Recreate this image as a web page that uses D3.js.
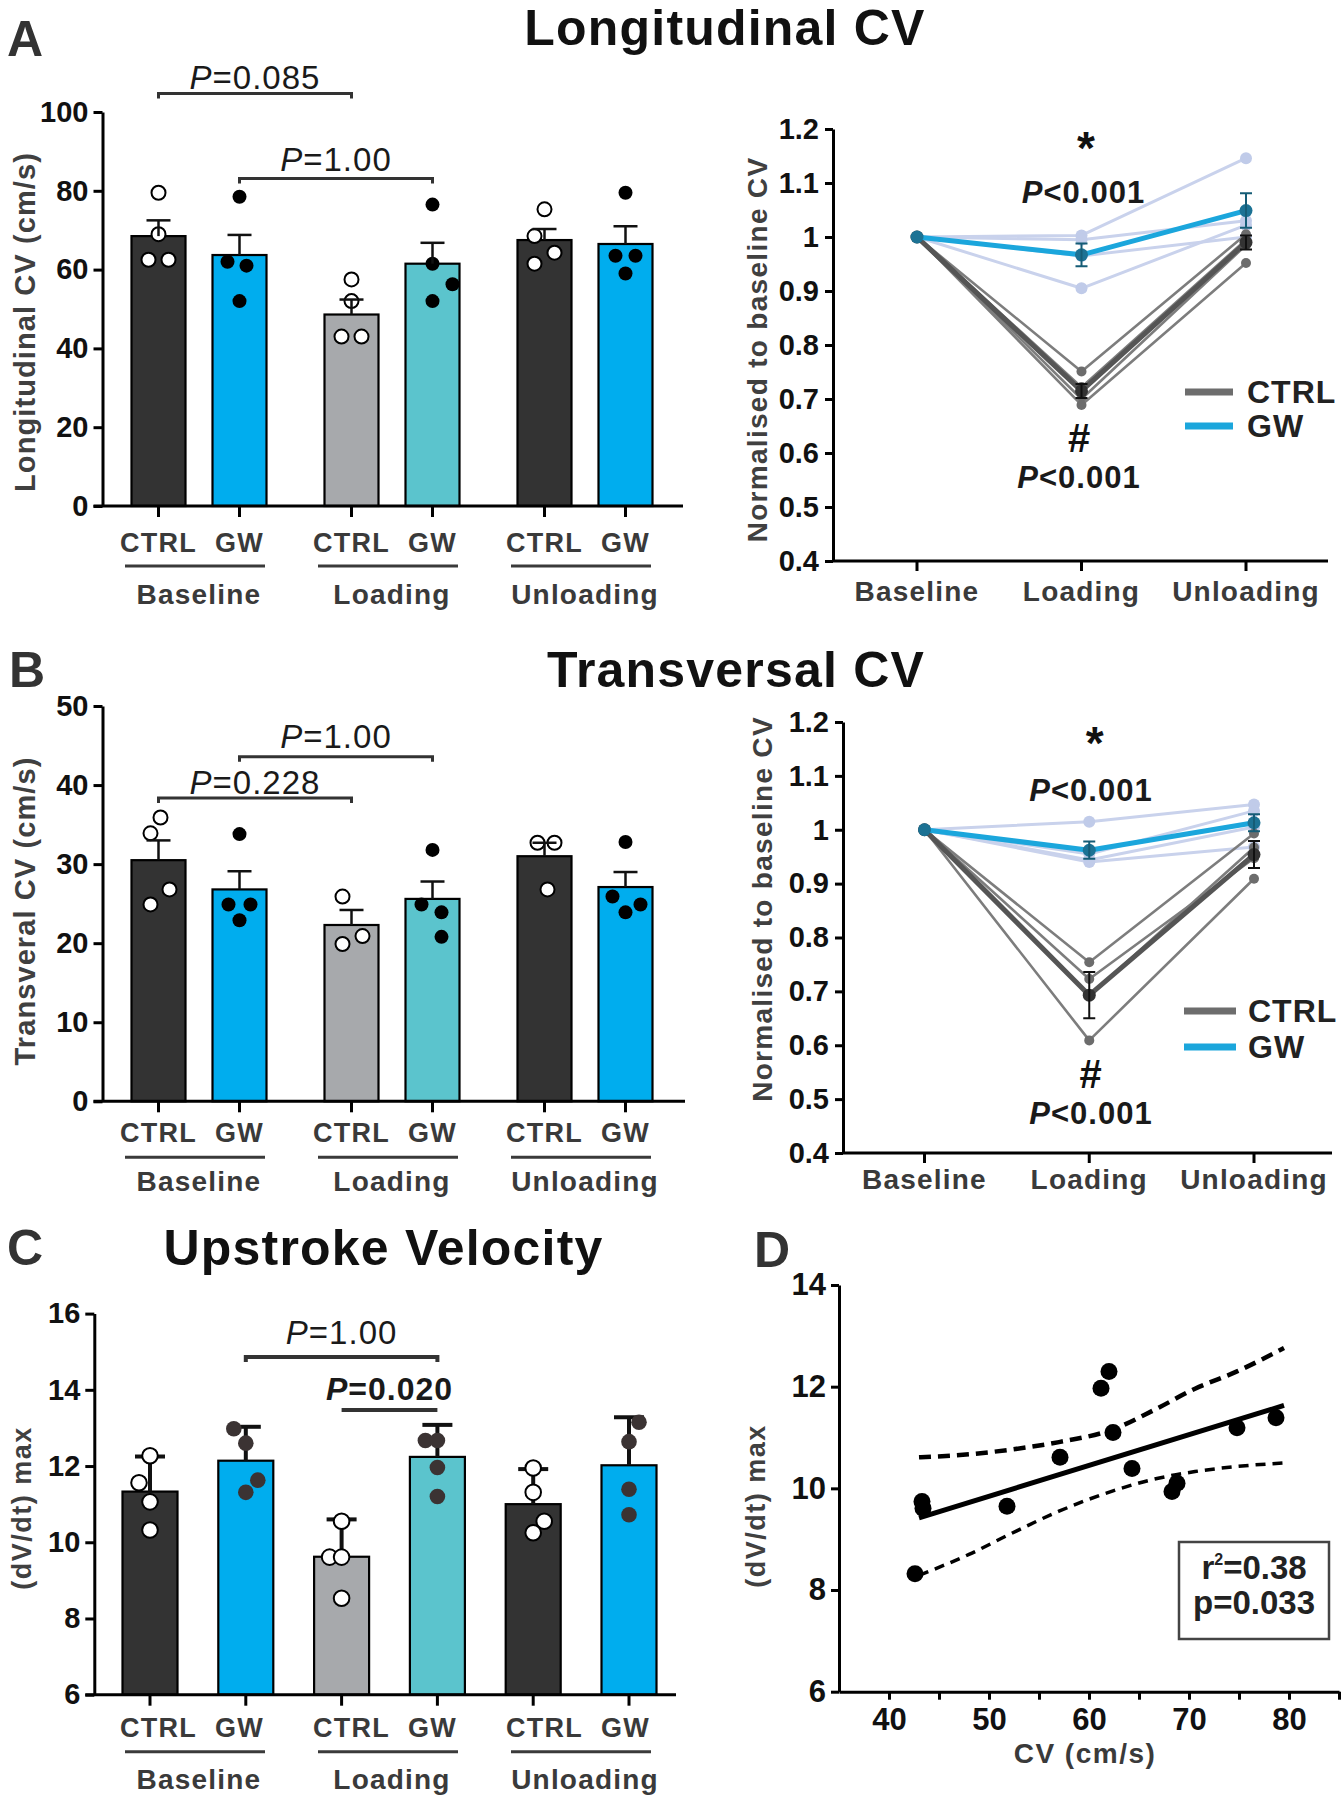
<!DOCTYPE html>
<html>
<head>
<meta charset="utf-8">
<script src="https://cdn.jsdelivr.net/npm/d3@7"></script>
<style>
  body { margin: 0; background: #fff; }
  svg { display: block; font-family: 'Liberation Sans', Arial, sans-serif; }
</style>
</head>
<body>
<div id="chart"></div>
<script>
  const W = 1343;
  const H = 1800;

  // ---------- data ----------
  const groups = ['Baseline', 'Loading', 'Unloading'];
  const treatments = ['CTRL', 'GW'];
  // bar order: Baseline CTRL, Baseline GW, Loading CTRL, Loading GW, Unloading CTRL, Unloading GW
  const lcvMean = [68.5, 63.7, 48.6, 61.5, 67.5, 66.5];
  const lcvErr = [4.0, 5.1, 3.8, 5.3, 2.8, 4.5];
  const lcvPoints = [[79.5, 69, 62.5, 62.5], [78.5, 62, 61, 52], [57.5, 52, 43, 43],
                     [76.5, 61.5, 56.3, 52], [75.3, 68.5, 64.3, 61.5], [79.5, 63.5, 63.5, 59]];

  const tcvMean = [30.5, 26.8, 22.3, 25.6, 31.0, 27.1];
  const tcvErr = [2.5, 2.3, 1.9, 2.2, 1.7, 1.9];
  const tcvPoints = [[35.9, 33.9, 26.8, 24.9], [33.8, 24.9, 24.9, 22.9], [25.9, 20.9, 19.9],
                     [31.8, 24.9, 23.9, 20.8], [32.7, 32.7, 26.8], [32.8, 25.9, 24.9, 23.9]];

  const upMean = [11.33, 12.14, 9.62, 12.24, 11.0, 12.02];
  const upErr = [0.92, 0.89, 0.98, 0.84, 0.92, 1.26];
  const upPoints = [[12.27, 11.56, 11.06, 10.32], [12.98, 12.6, 11.63, 11.31], [10.55, 9.61, 9.61, 8.53],
                    [12.67, 12.67, 11.96, 11.2], [11.95, 11.31, 10.55, 10.25], [13.15, 12.64, 11.39, 10.72]];

  // normalised to baseline (Baseline, Loading, Unloading)
  const lnCtrl = [[1, 0.751, 1.005], [1, 0.722, 0.995], [1, 0.70, 0.985], [1, 0.689, 0.952]];
  const lnGw = [[1, 1.003, 1.146], [1, 0.995, 1.03], [1, 0.965, 1.0], [1, 0.905, 1.022]];
  const lnCtrlMean = [1, 0.715, 0.99];
  const lnCtrlErr = [0, 0.013, 0.013];
  const lnGwMean = [1, 0.967, 1.049];
  const lnGwErr = [0, 0.021, 0.032];

  const tnCtrl = [[1, 0.754, 0.993], [1, 0.723, 0.947], [1, 0.692, 0.967], [1, 0.609, 0.909]];
  const tnGw = [[1, 1.015, 1.047], [1, 0.955, 1.035], [1, 0.944, 1.005], [1, 0.94, 0.968]];
  const tnCtrlMean = [1, 0.693, 0.954];
  const tnCtrlErr = [0, 0.043, 0.025];
  const tnGwMean = [1, 0.962, 1.013];
  const tnGwErr = [0, 0.016, 0.016];

  // correlation
  const cvX = [42.6, 43.4, 43.3, 51.8, 57.1, 61.2, 62.0, 62.4, 64.3, 68.3, 68.8, 74.8, 78.7];
  const dvY = [8.32, 9.61, 9.74, 9.65, 10.61, 11.97, 12.3, 11.1, 10.39, 9.94, 10.1, 11.19, 11.39];
  const fitX = [43, 79.5];
  const fitY = [9.42, 11.63];
  const bandX = [43, 48, 52.1, 57, 62.4, 66.5, 70.6, 74.8, 79.5];
  const bandUpper = [10.61, 10.67, 10.76, 10.91, 11.16, 11.54, 11.96, 12.30, 12.76];
  const bandLower = [8.29, 8.70, 9.10, 9.55, 9.95, 10.18, 10.33, 10.43, 10.50];

  // ---------- layout ----------
  const barFill = ['#333333', '#00adee', '#a7a9ac', '#5bc4cd', '#333333', '#00adee'];
  const openPoint = [true, false, true, false, true, false];
  // point scatter slots (x 10px)
  const jitA = [[0, 0, -1, 1], [0, -1.2, 0.7, 0], [0, 0, -1, 1], [0, 0, 2, 0], [0, -1, 1, -1], [0, -1, 1, 0]];
  const jitB = [[0.2, -0.8, 1.1, -0.8], [0, -1.1, 1.1, 0], [-0.9, 1.1, -0.9], [0, -1.1, 0.9, 0.9], [-0.7, 1, 0.3], [0, -1.3, 1.5, 0]];
  const jitC = [[0, -1.1, 0, 0], [-1.2, 0, 1.2, 0], [0, -1.2, 0, 0], [-1.2, 0, 0, 0], [0, 0, 1.1, 0], [1, 0, 0, 0]];

  const svg = d3.select('#chart').append('svg')
    .attr('width', W)
    .attr('height', H)
    .style('background', '#fff');

  const gx = d3.scaleBand().domain(groups).range([102.5, 681.5]);
  const tx = d3.scalePoint().domain(treatments).range([-40.5, 40.5]);
  const groupedX = i => gx(groups[Math.floor(i / 2)]) + gx.bandwidth() / 2 + tx(treatments[i % 2]);
  const evenX = d3.scalePoint().domain(d3.range(6)).range([150, 629]);

  function styleAxis(sel, size) {
    sel.attr('font-family', null).attr('font-size', null);
    sel.select('.domain').attr('stroke', '#000').attr('stroke-width', 3);
    sel.selectAll('.tick line').attr('stroke', '#000').attr('stroke-width', 3);
    sel.selectAll('.tick text')
      .attr('fill', '#111')
      .style('font-size', size + 'px')
      .style('font-weight', 'bold');
  }

  function grey(g, x, y, txt, size, ls, anchor) {
    return g.append('text')
      .attr('x', x).attr('y', y)
      .attr('text-anchor', anchor || 'middle')
      .attr('fill', '#3a3a3a')
      .style('font-size', size + 'px')
      .style('font-weight', 'bold')
      .style('letter-spacing', ls + 'px')
      .text(txt);
  }

  function yLabel(g, pos, txt, size, ls) {
    g.append('text')
      .attr('transform', 'translate(' + pos[0] + ',' + pos[1] + ') rotate(-90)')
      .attr('text-anchor', 'middle')
      .attr('dy', '0.35em')
      .attr('fill', '#404040')
      .style('font-size', size + 'px')
      .style('font-weight', 'bold')
      .style('letter-spacing', ls + 'px')
      .text(txt);
  }

  function pText(g, x, y, rest, size, bold) {
    const t = g.append('text')
      .attr('x', x).attr('y', y)
      .attr('text-anchor', 'middle')
      .attr('fill', '#1a1a1a')
      .style('font-size', size + 'px')
      .style('font-weight', bold ? 'bold' : 'normal')
      .style('letter-spacing', '1px');
    t.append('tspan').style('font-style', 'italic').text('P');
    t.append('tspan').text(rest);
  }

  function heading(letter, lx, ly, title, tx0, ty) {
    svg.append('text')
      .attr('x', lx).attr('y', ly)
      .attr('fill', '#333')
      .style('font-size', '50px')
      .style('font-weight', 'bold')
      .text(letter);
    if (title) {
      svg.append('text')
        .attr('x', tx0).attr('y', ty)
        .attr('text-anchor', 'middle')
        .attr('fill', '#111')
        .style('font-size', '50px')
        .style('font-weight', 'bold')
        .style('letter-spacing', '1.2px')
        .text(title);
    }
  }

  // ---------- bar panels ----------
  function barPanel(p) {
    const g = svg.append('g');
    const y = d3.scaleLinear().domain(p.domain).range([p.yBottom, p.yTop]);
    const bx = p.barX;

    const ya = g.append('g')
      .attr('transform', 'translate(' + p.axisX + ',0)')
      .call(d3.axisLeft(y).tickValues(p.ticks).tickSize(9).tickSizeOuter(0).tickPadding(5));
    styleAxis(ya, 29);

    g.selectAll('rect.bar')
      .data(p.mean)
      .join('rect')
        .attr('class', 'bar')
        .attr('x', (d, i) => bx(i) - p.barW / 2)
        .attr('y', d => y(d))
        .attr('width', p.barW)
        .attr('height', d => y(p.domain[0]) - y(d))
        .attr('fill', (d, i) => barFill[i])
        .attr('stroke', '#000')
        .attr('stroke-width', 2.2);

    const errs = g.append('g');
    const drawErr = () => {
      p.mean.forEach((m, i) => {
        const top = y(m + p.err[i]);
        errs.append('line')
          .attr('x1', bx(i)).attr('x2', bx(i))
          .attr('y1', y(m)).attr('y2', top)
          .attr('stroke', '#111').attr('stroke-width', p.errW);
        errs.append('line')
          .attr('x1', bx(i) - p.capHalf).attr('x2', bx(i) + p.capHalf)
          .attr('y1', top).attr('y2', top)
          .attr('stroke', '#111').attr('stroke-width', p.errW);
      });
    };
    const drawPts = () => {
      p.pts.forEach((vals, i) => {
        g.selectAll(null)
          .data(vals)
          .join('circle')
            .attr('cx', (v, k) => bx(i) + p.jit[i][k] * 10)
            .attr('cy', v => y(v))
            .attr('r', p.r)
            .attr('fill', openPoint[i] ? '#fff' : p.filled)
            .attr('stroke', openPoint[i] ? '#000' : 'none')
            .attr('stroke-width', 2);
      });
    };
    if (p.pointsOnTop) { drawErr(); drawPts(); } else { drawPts(); g.node().appendChild(errs.node()); drawErr(); }

    // x axis with ticks at bars
    g.append('line')
      .attr('x1', p.axisX - 9).attr('x2', p.xEnd)
      .attr('y1', p.yBottom).attr('y2', p.yBottom)
      .attr('stroke', '#000').attr('stroke-width', 3);
    g.selectAll('line.xt')
      .data(p.mean)
      .join('line')
        .attr('class', 'xt')
        .attr('x1', (d, i) => bx(i)).attr('x2', (d, i) => bx(i))
        .attr('y1', p.yBottom).attr('y2', p.yBottom + 11)
        .attr('stroke', '#000').attr('stroke-width', 3);

    // category labels
    p.mean.forEach((d, i) => grey(g, groupedX(i), p.yBottom + p.labelOffs[0], treatments[i % 2], 27, 1.2));
    groups.forEach(gr => {
      const c = gx(gr) + gx.bandwidth() / 2;
      g.append('line')
        .attr('x1', c - 74).attr('x2', c + 66)
        .attr('y1', p.yBottom + p.labelOffs[1]).attr('y2', p.yBottom + p.labelOffs[1])
        .attr('stroke', '#3a3a3a').attr('stroke-width', 3);
      grey(g, c, p.yBottom + p.labelOffs[2], gr, 28, 1.2);
    });

    yLabel(g, p.ylabelPos, p.ylabel, p.ylabelSize, p.ylabelLs);

    // comparison brackets
    p.brackets.forEach(b => {
      const x1 = bx(b.a), x2 = bx(b.b);
      const tick = b.noEnds ? 0 : 5;
      g.append('path')
        .attr('d', 'M' + x1 + ',' + (b.y + tick) + 'V' + b.y + 'H' + x2 + 'V' + (b.y + tick))
        .attr('fill', 'none')
        .attr('stroke', '#333')
        .attr('stroke-width', b.w || 3);
      pText(g, (x1 + x2) / 2, b.y + b.dy, b.text, b.bold ? 32 : 33, b.bold);
    });
  }

  // ---------- normalised line panels ----------
  function linePanel(p) {
    const g = svg.append('g');
    const x = d3.scalePoint().domain(groups).range(p.xRange);
    const y = d3.scaleLinear().domain([0.4, 1.2]).range([p.yBottom, p.yTop]);

    const ya = g.append('g')
      .attr('transform', 'translate(' + p.axisX + ',0)')
      .call(d3.axisLeft(y)
        .tickValues(d3.range(4, 13).map(v => v / 10))
        .tickFormat(d => d === 1 ? '1' : d3.format('.1f')(d))
        .tickSize(8).tickSizeOuter(0).tickPadding(6));
    styleAxis(ya, 29);

    g.append('line')
      .attr('x1', p.axisX).attr('x2', p.xEnd)
      .attr('y1', p.yBottom).attr('y2', p.yBottom)
      .attr('stroke', '#000').attr('stroke-width', 3);
    groups.forEach(s => {
      g.append('line')
        .attr('x1', x(s)).attr('x2', x(s))
        .attr('y1', p.yBottom).attr('y2', p.yBottom + 10)
        .attr('stroke', '#000').attr('stroke-width', 3);
      grey(g, x(s), p.yBottom + p.labelDy, s, 28, 1.2);
    });

    yLabel(g, p.ylabelPos, 'Normalised to baseline CV', 28, 1.3);

    const line = d3.line().x((d, i) => x(groups[i])).y(d => y(d));

    const series = (rows, color, width, dotColor, r) => {
      rows.forEach(row => {
        g.append('path').attr('d', line(row))
          .attr('fill', 'none').attr('stroke', color).attr('stroke-width', width)
          .attr('stroke-linejoin', 'round').attr('stroke-linecap', 'round');
        g.selectAll(null).data(row).join('circle')
          .attr('cx', (d, i) => x(groups[i])).attr('cy', d => y(d))
          .attr('r', r).attr('fill', dotColor);
      });
    };
    series(p.gw, '#c9d2ec', 3, '#c0cbe9', 6);
    series(p.ctrl, '#7d7d7d', 2.6, '#6c6c6c', 5);
    series([p.ctrlMean], '#555', 5, '#333', 6.5);
    series([p.gwMean], '#1ba6dc', 5, '#1c7294', 6.5);

    const errBars = (mean, err, color) => {
      mean.forEach((m, i) => {
        if (!err[i]) return;
        const cx = x(groups[i]);
        g.append('path')
          .attr('d', 'M' + (cx - 6) + ',' + y(m + err[i]) + 'H' + (cx + 6) +
                'M' + cx + ',' + y(m + err[i]) + 'V' + y(m - err[i]) +
                'M' + (cx - 6) + ',' + y(m - err[i]) + 'H' + (cx + 6))
          .attr('fill', 'none').attr('stroke', color).attr('stroke-width', 2);
      });
    };
    errBars(p.ctrlMean, p.ctrlErr, '#111');
    errBars(p.gwMean, p.gwErr, '#155c76');

    // annotations
    g.append('text').attr('x', p.star[0]).attr('y', p.star[1])
      .attr('text-anchor', 'middle').attr('fill', '#111')
      .style('font-size', '46px').style('font-weight', 'bold').text('*');
    pText(g, p.p1[0], p.p1[1], '<0.001', 31, true);
    g.append('text').attr('x', p.hash[0]).attr('y', p.hash[1])
      .attr('text-anchor', 'middle').attr('fill', '#111')
      .style('font-size', '40px').style('font-weight', 'bold').text('#');
    pText(g, p.p2[0], p.p2[1], '<0.001', 31, true);

    // legend
    [['CTRL', '#6d6d6d'], ['GW', '#1ba6dc']].forEach((l, i) => {
      g.append('line')
        .attr('x1', p.leg.x1).attr('x2', p.leg.x2)
        .attr('y1', p.leg.y[i] - 11).attr('y2', p.leg.y[i] - 11)
        .attr('stroke', l[1]).attr('stroke-width', 7);
      g.append('text').attr('x', p.leg.tx).attr('y', p.leg.y[i])
        .attr('fill', '#222')
        .style('font-size', '32px').style('font-weight', 'bold').style('letter-spacing', '1px')
        .text(l[0]);
    });
  }

  // ---------- A ----------
  heading('A', 7, 56, 'Longitudinal CV', 725, 45);
  barPanel({
    mean: lcvMean, err: lcvErr, pts: lcvPoints, jit: jitA,
    domain: [0, 100], ticks: d3.range(0, 101, 20), yBottom: 506, yTop: 112,
    axisX: 102.5, xEnd: 683, barX: groupedX, barW: 54,
    ylabel: 'Longitudinal CV (cm/s)', ylabelPos: [25, 322], ylabelSize: 29, ylabelLs: 1.1,
    labelOffs: [46, 60, 98], pointsOnTop: false, errW: 2.5, capHalf: 12, r: 7, filled: '#000',
    brackets: [
      { a: 0, b: 2, y: 93.5, text: '=0.085', dy: -5 },
      { a: 1, b: 3, y: 178.5, text: '=1.00', dy: -8 }
    ]
  });
  linePanel({
    ctrl: lnCtrl, gw: lnGw, ctrlMean: lnCtrlMean, ctrlErr: lnCtrlErr, gwMean: lnGwMean, gwErr: lnGwErr,
    axisX: 833, yTop: 129, yBottom: 561, xRange: [917, 1246], xEnd: 1328, labelDy: 40,
    ylabelPos: [757, 349.5],
    star: [1086, 164], p1: [1083.5, 203], hash: [1079, 452], p2: [1079, 488],
    leg: { x1: 1185, x2: 1233, tx: 1247, y: [403, 437] }
  });

  // ---------- B ----------
  heading('B', 9, 687, 'Transversal CV', 736, 687);
  barPanel({
    mean: tcvMean, err: tcvErr, pts: tcvPoints, jit: jitB,
    domain: [0, 50], ticks: d3.range(0, 51, 10), yBottom: 1101.3, yTop: 706,
    axisX: 102.5, xEnd: 685, barX: groupedX, barW: 54,
    ylabel: 'Transveral CV (cm/s)', ylabelPos: [25, 911], ylabelSize: 29, ylabelLs: 1.1,
    labelOffs: [41, 56, 90], pointsOnTop: false, errW: 2.5, capHalf: 12, r: 7, filled: '#000',
    brackets: [
      { a: 1, b: 3, y: 756.7, text: '=1.00', dy: -9 },
      { a: 0, b: 2, y: 798, text: '=0.228', dy: -4 }
    ]
  });
  linePanel({
    ctrl: tnCtrl, gw: tnGw, ctrlMean: tnCtrlMean, ctrlErr: tnCtrlErr, gwMean: tnGwMean, gwErr: tnGwErr,
    axisX: 843, yTop: 722, yBottom: 1153, xRange: [924.5, 1254], xEnd: 1332, labelDy: 36,
    ylabelPos: [762, 909],
    star: [1094.7, 759], p1: [1091, 801], hash: [1090.6, 1088], p2: [1091, 1124],
    leg: { x1: 1184, x2: 1236, tx: 1248, y: [1022, 1058] }
  });

  // ---------- C ----------
  heading('C', 7, 1265, 'Upstroke Velocity', 383.5, 1265);
  barPanel({
    mean: upMean, err: upErr, pts: upPoints, jit: jitC,
    domain: [6, 16], ticks: d3.range(6, 17, 2), yBottom: 1694.7, yTop: 1313.6,
    axisX: 94.3, xEnd: 676, barX: i => evenX(i), barW: 55,
    ylabel: '(dV/dt) max', ylabelPos: [21.5, 1508], ylabelSize: 27, ylabelLs: 1.5,
    labelOffs: [42, 57, 94], pointsOnTop: true, errW: 4, capHalf: 15, r: 7.8, filled: '#3b3333',
    brackets: [
      { a: 1, b: 3, y: 1357, text: '=1.00', dy: -13, w: 4 },
      { a: 2, b: 3, y: 1410, text: '=0.020', dy: -10, w: 4, bold: true, noEnds: true }
    ]
  });

  // ---------- D ----------
  heading('D', 754, 1267);
  const dg = svg.append('g');
  const dx = d3.scaleLinear().domain([35, 85]).range([839, 1339]);
  const dy = d3.scaleLinear().domain([6, 14]).range([1691.7, 1285]);

  const dxa = dg.append('g')
    .attr('transform', 'translate(0,' + dy(6) + ')')
    .call(d3.axisBottom(dx).tickValues(d3.range(40, 90, 5))
      .tickFormat(d => d % 10 ? '' : d).tickSize(8).tickSizeOuter(0).tickPadding(8));
  styleAxis(dxa, 31);
  const dya = dg.append('g')
    .attr('transform', 'translate(' + dx(35) + ',0)')
    .call(d3.axisLeft(dy).tickValues(d3.range(6, 15, 2)).tickSize(8).tickSizeOuter(0).tickPadding(5));
  styleAxis(dya, 31);

  const bandLine = d3.line().x(d => dx(d[0])).y(d => dy(d[1])).curve(d3.curveMonotoneX);
  dg.append('path')
    .attr('d', bandLine(bandX.map((v, i) => [v, bandUpper[i]])))
    .attr('fill', 'none').attr('stroke', '#000').attr('stroke-width', 4.5).attr('stroke-dasharray', '12,7');
  dg.append('path')
    .attr('d', bandLine(bandX.map((v, i) => [v, bandLower[i]])))
    .attr('fill', 'none').attr('stroke', '#000').attr('stroke-width', 3.5).attr('stroke-dasharray', '10,7');
  dg.append('path')
    .attr('d', bandLine(fitX.map((v, i) => [v, fitY[i]])))
    .attr('fill', 'none').attr('stroke', '#000').attr('stroke-width', 5);

  dg.selectAll('circle')
    .data(cvX)
    .join('circle')
      .attr('cx', d => dx(d))
      .attr('cy', (d, i) => dy(dvY[i]))
      .attr('r', 8.5)
      .attr('fill', '#000');

  yLabel(dg, [755.5, 1506], '(dV/dt) max', 27, 1.5);
  grey(dg, 1085, 1763, 'CV (cm/s)', 28, 1.5);

  dg.append('rect')
    .attr('x', 1179).attr('y', 1542).attr('width', 150).attr('height', 97)
    .attr('fill', '#fff').attr('stroke', '#444').attr('stroke-width', 2.5);
  const r2 = dg.append('text').attr('x', 1254).attr('y', 1579)
    .attr('text-anchor', 'middle').attr('fill', '#222')
    .style('font-size', '33px').style('font-weight', 'bold');
  r2.append('tspan').text('r');
  r2.append('tspan').attr('dy', -14).style('font-size', '16px').text('2');
  r2.append('tspan').attr('dy', 14).text('=0.38');
  dg.append('text').attr('x', 1254).attr('y', 1614)
    .attr('text-anchor', 'middle').attr('fill', '#222')
    .style('font-size', '33px').style('font-weight', 'bold')
    .text('p=0.033');
</script>
</body>
</html>
